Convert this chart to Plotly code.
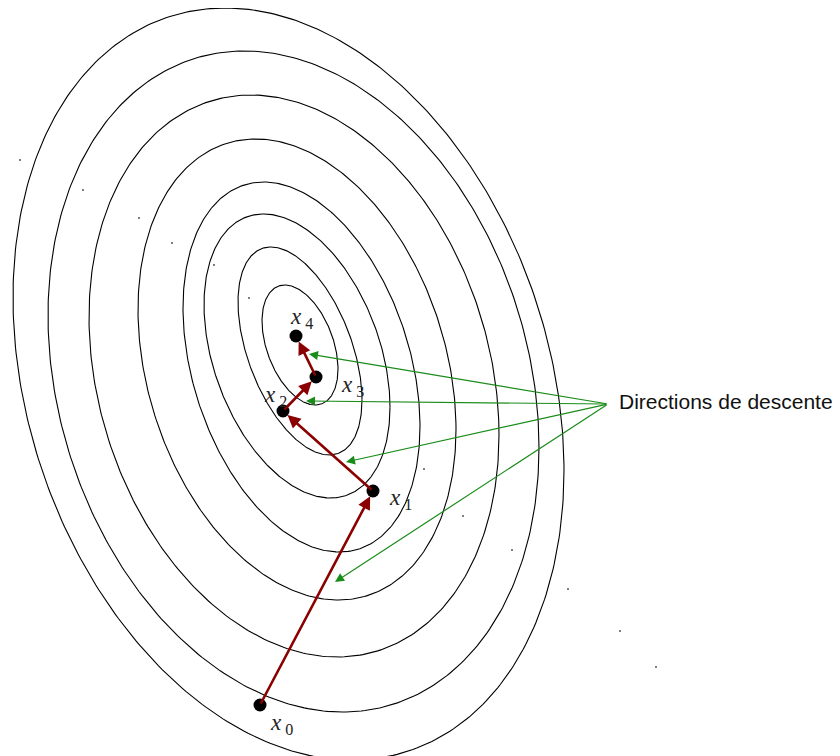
import numpy as np
import plotly.graph_objects as go

# ---- Contour ellipses (pixel space, y downward): centre, half-width, half-height, correlation
ell_cx = [288.5, 293.5, 294.0, 297.0, 301.5, 297.0, 300.0, 300.0]
ell_cy = [384.0, 381.5, 376.0, 369.5, 367.0, 356.0, 351.0, 345.0]
ell_w = [275.5, 245.5, 205.0, 159.0, 118.5, 93.0, 62.0, 38.0]
ell_h = [376.0, 330.5, 281.0, 230.5, 185.0, 142.0, 104.0, 60.0]
ell_rho = [0.23, 0.20, 0.21, 0.26, 0.32, 0.36, 0.47, 0.40]

# ---- Iterates of the descent method
pt_x = [260, 373, 283, 316, 296]
pt_y = [705, 491, 411, 377, 336]
pt_labels = ["0", "1", "2", "3", "4"]
lab_x = [268, 387, 262, 339, 288]
lab_y = [724, 499, 396, 386, 318]

# ---- Green annotation arrows
dir_label = "Directions de descente"
dir_src = (608, 404)
dir_tip_x = [309, 306, 346, 335]
dir_tip_y = [354, 401, 462, 582]

# ---- faint specks in the picture
speck_x = [20, 83, 139, 172, 214, 249, 424, 463, 512, 568, 620, 656]
speck_y = [160, 190, 218, 243, 265, 298, 469, 516, 550, 589, 631, 667]

fig = go.Figure()
t = np.linspace(0, 2 * np.pi, 400)
for cx, cy, w, h, r in zip(ell_cx, ell_cy, ell_w, ell_h, ell_rho):
    xs = cx + w * np.cos(t)
    ys = cy + r * h * np.cos(t) + h * np.sqrt(1 - r * r) * np.sin(t)
    fig.add_trace(go.Scatter(x=xs, y=ys, mode="lines",
                             line=dict(color="black", width=1.1),
                             hoverinfo="skip", showlegend=False))

fig.add_trace(go.Scatter(x=speck_x, y=speck_y, mode="markers",
                         marker=dict(size=2, color="#555"),
                         hoverinfo="skip", showlegend=False))

fig.add_trace(go.Scatter(x=pt_x, y=pt_y, mode="markers",
                         marker=dict(size=13, color="black"),
                         hoverinfo="skip", showlegend=False))

ann = []
for i in range(len(pt_x) - 1):
    ann.append(dict(x=pt_x[i + 1], y=pt_y[i + 1], ax=pt_x[i], ay=pt_y[i],
                    xref="x", yref="y", axref="x", ayref="y", text="",
                    showarrow=True, arrowhead=2, arrowsize=1.0, arrowwidth=2.6,
                    arrowcolor="#8b0000", standoff=6))
for tx, ty in zip(dir_tip_x, dir_tip_y):
    ann.append(dict(x=tx, y=ty, ax=dir_src[0], ay=dir_src[1],
                    xref="x", yref="y", axref="x", ayref="y", text="",
                    showarrow=True, arrowhead=2, arrowsize=1.5, arrowwidth=1.2,
                    arrowcolor="#1a8c1a"))
for lx, ly, s in zip(lab_x, lab_y, pt_labels):
    ann.append(dict(x=lx, y=ly, xref="x", yref="y", showarrow=False,
                    xanchor="left", yanchor="middle",
                    text="<i>x</i><sub> " + s + "</sub>",
                    font=dict(family="Liberation Serif", size=23, color="#222")))
ann.append(dict(x=617, y=401, xref="x", yref="y", showarrow=False,
                xanchor="left", yanchor="middle", text=dir_label,
                font=dict(family="Liberation Sans", size=21, color="#111")))

# the page body has an 8px margin: the figure covers screen pixels 8..840 / 8..756
fig.update_layout(
    width=832, height=748,
    margin=dict(l=0, r=0, t=0, b=0),
    paper_bgcolor="white", plot_bgcolor="white",
    xaxis=dict(range=[8, 840], visible=False, fixedrange=True),
    yaxis=dict(range=[756, 8], visible=False, fixedrange=True),
    annotations=ann,
    showlegend=False,
)
fig.write_html("out.html")
